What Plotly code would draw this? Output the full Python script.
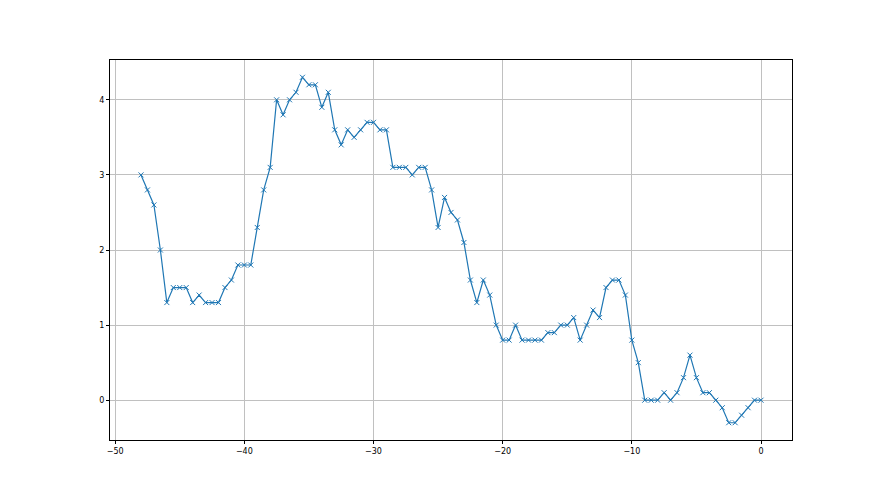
import plotly.graph_objects as go

x_values = [-48 + 0.5 * i for i in range(97)]
y_values = [3.0, 2.8, 2.6, 2.0, 1.3, 1.5, 1.5, 1.5, 1.3, 1.4, 1.3, 1.3, 1.3, 1.5, 1.6, 1.8, 1.8, 1.8,
            2.3, 2.8, 3.1, 4.0, 3.8, 4.0, 4.1, 4.3, 4.2, 4.2, 3.9, 4.1, 3.6, 3.4, 3.6, 3.5, 3.6, 3.7,
            3.7, 3.6, 3.6, 3.1, 3.1, 3.1, 3.0, 3.1, 3.1, 2.8, 2.3, 2.7, 2.5, 2.4, 2.1, 1.6, 1.3, 1.6,
            1.4, 1.0, 0.8, 0.8, 1.0, 0.8, 0.8, 0.8, 0.8, 0.9, 0.9, 1.0, 1.0, 1.1, 0.8, 1.0, 1.2, 1.1,
            1.5, 1.6, 1.6, 1.4, 0.8, 0.5, 0.0, 0.0, 0.0, 0.1, 0.0, 0.1, 0.3, 0.6, 0.3, 0.1, 0.1, 0.0,
            -0.1, -0.3, -0.3, -0.2, -0.1, 0.0, 0.0]
x_ticks = [-50, -40, -30, -20, -10, 0]
y_ticks = [0, 1, 2, 3, 4]

fig = go.Figure()
fig.add_trace(go.Scatter(
    x=x_values, y=y_values, mode="lines+markers",
    line=dict(color="#1f77b4", width=1.2),
    marker=dict(symbol="x-thin", size=5, line=dict(color="#1f77b4", width=1)),
    showlegend=False,
))

axis_common = dict(
    showline=True, linecolor="black", linewidth=1, mirror=True,
    ticks="outside", ticklen=3, tickwidth=1, tickcolor="black",
    showgrid=True, gridcolor="#c0c0c0", gridwidth=0.8,
    zeroline=False, tickfont=dict(family="DejaVu Sans", size=8, color="black"),
)
fig.update_xaxes(range=[-50.4, 2.4], tickvals=x_ticks, **axis_common)
fig.update_yaxes(range=[-0.53, 4.53], tickvals=y_ticks, **axis_common)

fig.update_layout(
    width=880, height=495,
    margin=dict(l=102, r=96, t=52, b=63),
    plot_bgcolor="white", paper_bgcolor="white",
)
fig.write_html("out.html")
